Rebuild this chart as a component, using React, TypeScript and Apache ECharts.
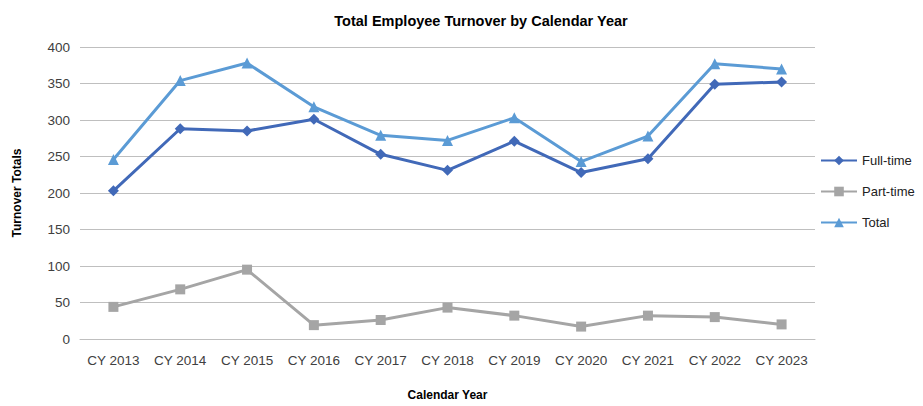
import React, { useEffect, useRef } from "react";
import * as echarts from "echarts";

const categories = ["CY 2013", "CY 2014", "CY 2015", "CY 2016", "CY 2017", "CY 2018", "CY 2019", "CY 2020", "CY 2021", "CY 2022", "CY 2023"];
const fullTime = [203, 288, 285, 301, 253, 231, 271, 228, 247, 349, 352];
const partTime = [44, 68, 95, 19, 26, 43, 32, 17, 32, 30, 20];
const total = [246, 354, 378, 318, 279, 272, 303, 243, 278, 377, 370];

const FONT = "'Liberation Sans', Arial, sans-serif";

export default function App() {
  const ref = useRef<HTMLDivElement>(null);
  useEffect(() => {
    if (!ref.current) return;
    const chart = echarts.init(ref.current, null, { renderer: "svg" });
    const mk = (name: string, data: number[], color: string, symbol: string, size: number) => ({
      name,
      type: "line",
      data,
      symbol,
      symbolSize: size,
      lineStyle: { color, width: 3 },
      itemStyle: { color },
      emphasis: { disabled: true },
    });
    chart.setOption({
      animation: false,
      textStyle: { fontFamily: FONT },
      title: {
        text: "Total Employee Turnover by Calendar Year",
        left: 476,
        textAlign: "center",
        top: 8,
        textStyle: { fontSize: 14.5, fontWeight: "bold", color: "#000", fontFamily: FONT },
      },
      legend: {
        orient: "vertical",
        left: 815,
        top: 149,
        itemGap: 18,
        itemWidth: 36,
        itemHeight: 12,
        textStyle: { fontSize: 13, color: "#222", fontFamily: FONT },
        data: [
          { name: "Full-time" },
          { name: "Part-time" },
          { name: "Total" },
        ],
      },
      grid: { left: 80, right: 108, top: 47, bottom: 65 },
      xAxis: {
        type: "category",
        data: categories,
        name: "Calendar Year",
        nameLocation: "middle",
        nameGap: 50,
        nameTextStyle: { fontSize: 12, fontWeight: "bold", color: "#000", fontFamily: FONT },
        axisLine: { lineStyle: { color: "#bfbfbf", width: 1 } },
        axisTick: { show: false },
        axisLabel: { fontSize: 13.5, color: "#404040", margin: 14, interval: 0, hideOverlap: false, fontFamily: FONT },
      },
      yAxis: {
        type: "value",
        min: 0,
        max: 400,
        interval: 50,
        name: "Turnover Totals",
        nameLocation: "middle",
        nameGap: 57,
        nameRotate: 90,
        nameTextStyle: { fontSize: 12, fontWeight: "bold", color: "#000", fontFamily: FONT },
        axisLine: { show: false },
        axisTick: { show: false },
        axisLabel: { fontSize: 13.5, color: "#404040", margin: 10, fontFamily: FONT },
        splitLine: { lineStyle: { color: "#bfbfbf", width: 1 } },
      },
      series: [
        mk("Full-time", fullTime, "#4169b8", "diamond", 11),
        mk("Part-time", partTime, "#a5a5a5", "rect", 10),
        mk("Total", total, "#5b9bd5", "triangle", 11),
      ],
    });
    return () => chart.dispose();
  }, []);
  return <div ref={ref} style={{ position: "absolute", left: 0, top: 0, width: 923, height: 406 }} />;
}
